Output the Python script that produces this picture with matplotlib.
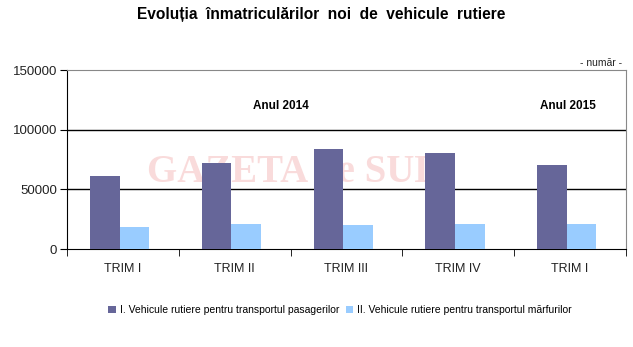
import matplotlib
matplotlib.use("Agg")
import matplotlib.pyplot as plt
import numpy as np

categories = ["TRIM I", "TRIM II", "TRIM III", "TRIM IV", "TRIM I"]
pasageri = [61000, 72000, 84000, 80500, 70500]
marfuri = [18500, 21000, 20000, 21000, 21000]
series_names = ["I. Vehicule rutiere pentru transportul pasagerilor",
                "II. Vehicule rutiere pentru transportul mărfurilor"]
yticks = [0, 50000, 100000, 150000]

plt.rcParams['font.family'] = ['Liberation Sans', 'DejaVu Sans']

fig = plt.figure(figsize=(6.33, 3.47), dpi=100)
ax = fig.add_axes([67/633, 1-249/347, (626-67)/633, (249-70)/347])

x = np.arange(len(categories))
w = 0.265
ax.bar(x - w/2 - 0.03, pasageri, w, color="#666699", zorder=3, label=series_names[0])
ax.bar(x + w/2 - 0.03, marfuri, w, color="#99CCFF", zorder=3, label=series_names[1])

ax.set_xlim(-0.5, len(categories) - 0.5)
ax.set_ylim(0, 150000)
ax.set_yticks(yticks)
ax.set_yticklabels([str(v) for v in yticks], fontsize=9.5, color="#222222")
for v in yticks[1:-1]:
    ax.axhline(v, color="black", lw=1, zorder=1)

ax.set_xticks(x)
ax.set_xticklabels(categories, fontsize=9, color="#222222")
ax.tick_params(axis='x', length=0, pad=10)
ax.set_xticks(np.arange(len(categories) + 1) - 0.5, minor=True)
ax.tick_params(axis='x', which='minor', length=5, direction='out', color='black')
ax.tick_params(axis='y', length=5, direction='out', color='black', pad=2)

ax.spines['left'].set_color('black')
ax.spines['bottom'].set_color('black')
ax.spines['top'].set_color('#888888')
ax.spines['right'].set_color('#888888')

ax.text(1.41, 120000, "Anul 2014", ha='center', va='center', fontsize=8.5, fontweight='bold')
ax.text(3.98, 120000, "Anul 2015", ha='center', va='center', fontsize=8.5, fontweight='bold')

ax.text(1.54, 64000, "GAZETA de SUD", ha='center', va='center', fontsize=28,
        fontweight='bold', family=['Liberation Serif', 'DejaVu Serif'],
        color="#F4B8B8", alpha=0.5, zorder=2)

fig.text(622/633, 1-63/347, "- număr -", ha='right', va='center', fontsize=7.5, color="#222222")
fig.text(321/633, 1-15/347, "Evoluția  înmatriculărilor  noi  de  vehicule  rutiere",
         ha='center', va='center', fontsize=11.2, fontweight='bold')

fig.legend(loc='center', bbox_to_anchor=(340/633, 1-310/347), ncol=2, frameon=False,
           fontsize=7.5, handlelength=0.7, handleheight=0.7, handletextpad=0.4,
           columnspacing=0.6)

fig.savefig("out.png", dpi=100)
